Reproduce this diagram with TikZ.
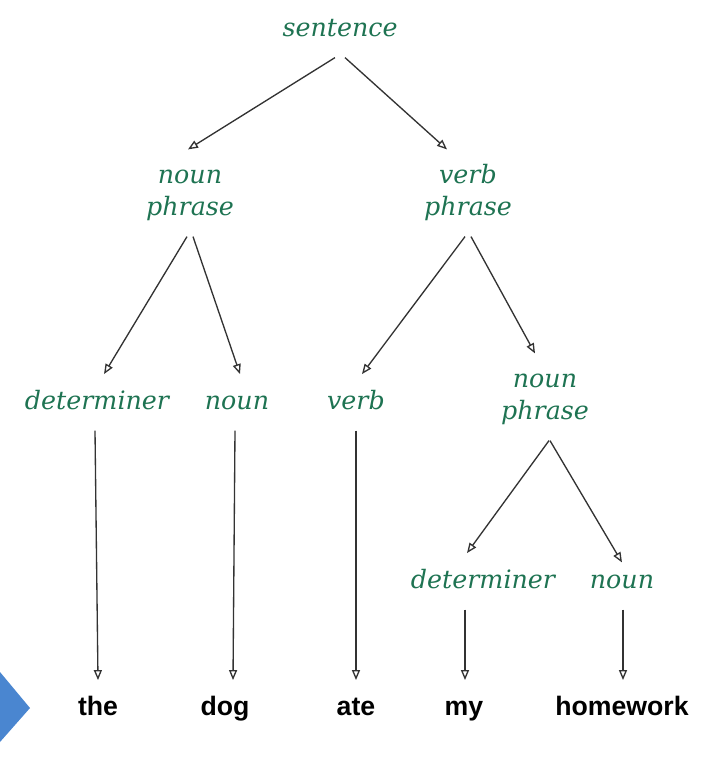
\documentclass[tikz,border=0pt]{standalone}
\usepackage{fontspec}
\newfontfamily\catfont{DejaVu Serif}
\newfontfamily\wordfont{Liberation Sans}
\usetikzlibrary{arrows.meta,calc}
\definecolor{catgreen}{RGB}{30,115,82}
\definecolor{pointer}{RGB}{74,134,208}
\begin{document}
\begin{tikzpicture}[x=0.75pt,y=-0.75pt,>={Triangle[open,length=7.5pt,width=6pt]}, line join=round]
\tikzset{
  cat/.style={font=\catfont\itshape\fontsize{19}{24}\selectfont, text=catgreen, align=center,
    inner xsep=0pt, inner ysep=12pt, text height=14pt, text depth=4pt, anchor=base},
  phrase/.style={cat, text height=37pt},
  word/.style={font=\wordfont\bfseries\fontsize{20}{24}\selectfont,
    inner xsep=0pt, inner ysep=12pt, text height=14pt, text depth=4pt, anchor=base},
  branch/.style={->, draw=black!80, line width=1pt}
}
\useasboundingbox (0,0) rectangle (724,769);
\fill[pointer] (0,672)--(30,708)--(0,742)--cycle;
\path
(340,36) node[cat](S){sentence}
(190,215) node[phrase](NP){noun\\phrase}
(468,215) node[phrase](VP){verb\\phrase}
(97,409) node[cat](D){determiner}
(237,409) node[cat](N){noun}
(356,409) node[cat](V){verb}
(545,419) node[phrase](NP2){noun\\phrase}
(483,588) node[cat](D2){determiner}
(622,588) node[cat,text height=7pt](N2){noun}
(98,715) node[word](the){the}
(225,715) node[word](dog){dog}
(356,715) node[word](ate){ate}
(464,715) node[word](my){my}
(622,715) node[word](hw){homework}
;
\foreach \p/\c/\a/\b in {S/NP/-5/-2,S/VP/5/-21,NP/D/-3/7,NP/N/3/3,VP/V/-3/6,VP/NP2/3/-10,
  NP2/D2/4/-16,NP2/N2/5/0,D/the/-2/0,N/dog/-2/8,V/ate/0/0,D2/my/-18/1,N2/hw/1/1}
  \draw[branch] ($(\p.south)+(\a,0)$)--($(\c.north)+(\b,0)$);
\end{tikzpicture}
\end{document}
